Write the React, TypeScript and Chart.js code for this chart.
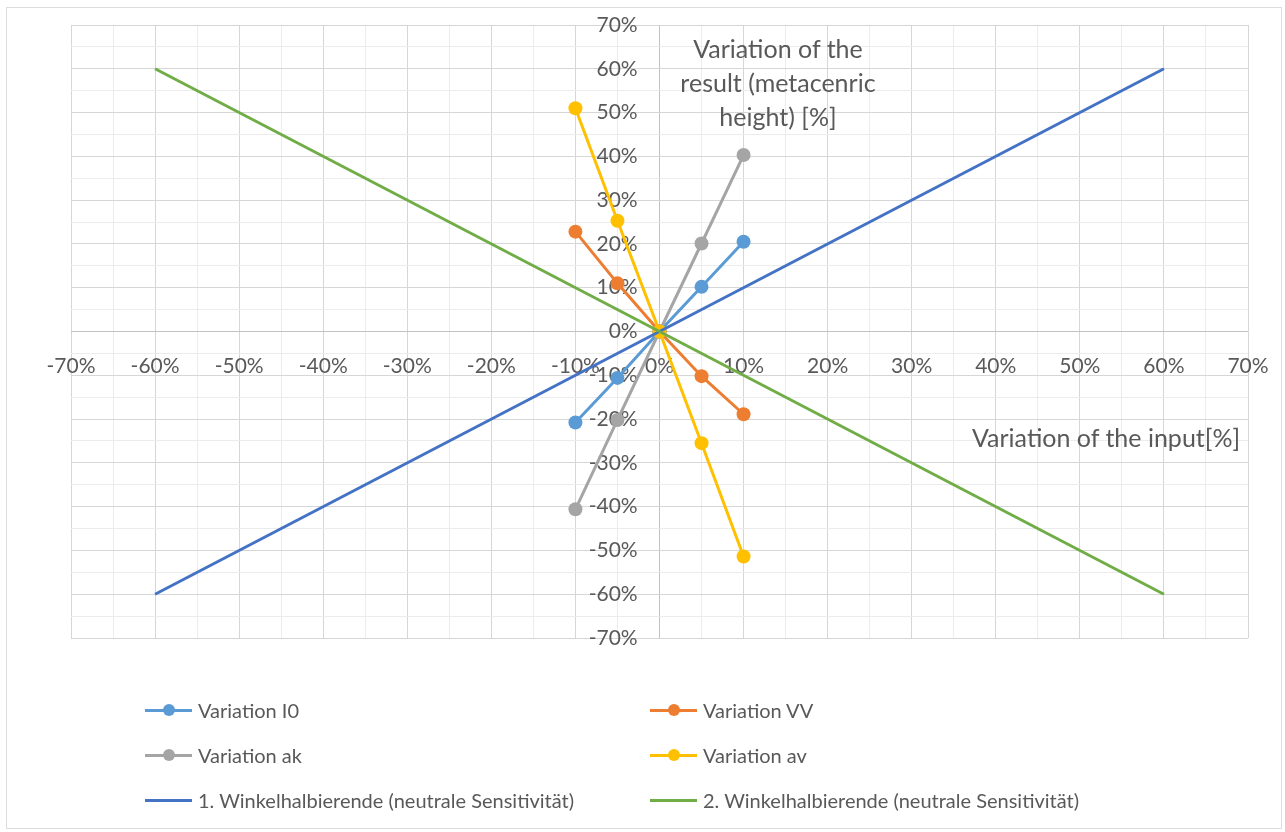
import React, { useEffect, useRef } from "react";
import { Chart, registerables } from "chart.js";

Chart.register(...registerables);

const inputVariation = [-10, -5, 0, 5, 10];
const variationI0 = [-20.8, -10.6, 0, 10.2, 20.5];
const variationVV = [22.8, 11.0, 0, -10.2, -18.9];
const variationAk = [-40.6, -20.2, 0, 20.1, 40.3];
const variationAv = [51.0, 25.3, 0, -25.5, -51.4];
const bisectorX = [-60, 60];
const bisector1 = [-60, 60];
const bisector2 = [60, -60];

const seriesNames = [
  "Variation I0",
  "Variation VV",
  "Variation ak",
  "Variation av",
  "1. Winkelhalbierende (neutrale Sensitivität)",
  "2. Winkelhalbierende (neutrale Sensitivität)",
];
const seriesColors = ["#5B9BD5", "#ED7D31", "#A5A5A5", "#FFC000", "#4472C4", "#70AD47"];
const seriesMarkers = [true, true, true, true, false, false];

const yTitleLines = ["Variation of the", "result (metacenric", "height) [%]"];
const xTitle = "Variation of the input[%]";

const FONT = "Lato, 'Open Sans', sans-serif";
const TEXT = "#595959";

function pts(xs: number[], ys: number[]) {
  return xs.map((x, i) => ({ x, y: ys[i] }));
}

export default function App() {
  const ref = useRef<HTMLCanvasElement | null>(null);

  useEffect(() => {
    if (!ref.current) return;
    const seriesData = [
      pts(inputVariation, variationI0),
      pts(inputVariation, variationVV),
      pts(inputVariation, variationAk),
      pts(inputVariation, variationAv),
      pts(bisectorX, bisector1),
      pts(bisectorX, bisector2),
    ];
    const gridColor = (ctx: any) => {
      const v = ctx.tick ? ctx.tick.value : 0;
      if (v === 0) return "#c2c2c2";
      if (Math.abs(v) % 10 === 0) return "#d6d6d6";
      return "#ececec";
    };
    const chart = new Chart(ref.current, {
      type: "scatter",
      data: {
        datasets: seriesData.map((d, i) => ({
          label: seriesNames[i],
          data: d,
          showLine: true,
          borderColor: seriesColors[i],
          backgroundColor: seriesColors[i],
          borderWidth: 3,
          pointRadius: seriesMarkers[i] ? 7 : 0,
          pointHoverRadius: seriesMarkers[i] ? 7 : 0,
          pointBorderWidth: 0,
          order: 10 - i,
        })),
      },
      options: {
        responsive: false,
        animation: false,
        layout: { padding: { left: 71, right: 37, top: 25, bottom: 194 } },
        plugins: { legend: { display: false }, tooltip: { enabled: false } },
        scales: {
          x: {
            type: "linear",
            min: -70,
            max: 70,
            position: { y: -5.0 } as any,
            afterFit: (s: any) => {
              s.height = 0;
            },
            ticks: {
              stepSize: 5,
              autoSkip: false,
              maxRotation: 0,
              padding: 0,
              color: TEXT,
              font: { family: FONT, size: 21 },
              callback: (v: any) => (Math.abs(v) % 10 === 0 ? v + "%" : ""),
            },
            grid: { color: gridColor, drawTicks: false, lineWidth: 1 },
            border: { display: false },
          },
          y: {
            type: "linear",
            min: -70,
            max: 70,
            position: { x: -2.6 } as any,
            afterFit: (s: any) => {
              s.width = 0;
            },
            ticks: {
              stepSize: 5,
              autoSkip: false,
              padding: 0,
              color: TEXT,
              font: { family: FONT, size: 21 },
              callback: (v: any) => (Math.abs(v) % 10 === 0 ? v + "%" : ""),
            },
            grid: { color: gridColor, drawTicks: false, lineWidth: 1 },
            border: { display: false },
          },
        },
      },
    });
    return () => chart.destroy();
  }, []);

  const legendRows = [
    [0, 1],
    [2, 3],
    [4, 5],
  ];
  const colLeft = [145, 650];
  const rowY = [710, 755, 800];

  return (
    <div
      style={{
        position: "fixed",
        left: 0,
        top: 0,
        width: 1285,
        height: 832,
        background: "#fff",
        fontFamily: FONT,
        color: TEXT,
        overflow: "hidden",
      }}
    >
      <div
        style={{
          position: "absolute",
          left: 6,
          top: 7,
          width: 1276,
          height: 822,
          border: "1px solid #dcdcdc",
          boxSizing: "border-box",
        }}
      />
      <canvas ref={ref} width={1285} height={832} style={{ position: "absolute", left: 0, top: 0 }} />
      <div
        style={{
          position: "absolute",
          left: 628,
          top: 31,
          width: 300,
          textAlign: "center",
          fontSize: 25,
          lineHeight: "34px",
        }}
      >
        {yTitleLines.map((l, i) => (
          <div key={i} style={{ whiteSpace: "nowrap" }}>
            {l}
          </div>
        ))}
      </div>
      <div
        style={{
          position: "absolute",
          left: 972,
          top: 420,
          fontSize: 25,
          lineHeight: "34px",
          whiteSpace: "nowrap",
        }}
      >
        {xTitle}
      </div>
      {legendRows.map((row, r) =>
        row.map((idx, c) => (
          <div
            key={idx}
            style={{
              position: "absolute",
              left: colLeft[c],
              top: rowY[r] - 15,
              height: 30,
              display: "flex",
              alignItems: "center",
              whiteSpace: "nowrap",
              fontSize: 20,
            }}
          >
            <div style={{ position: "relative", width: 47, height: 30, marginRight: 6 }}>
              <div
                style={{
                  position: "absolute",
                  left: 0,
                  top: 13.5,
                  width: 47,
                  height: 3,
                  background: seriesColors[idx],
                }}
              />
              {seriesMarkers[idx] && (
                <div
                  style={{
                    position: "absolute",
                    left: 17.5,
                    top: 9,
                    width: 12,
                    height: 12,
                    borderRadius: 6,
                    background: seriesColors[idx],
                  }}
                />
              )}
            </div>
            <span>{seriesNames[idx]}</span>
          </div>
        ))
      )}
    </div>
  );
}
